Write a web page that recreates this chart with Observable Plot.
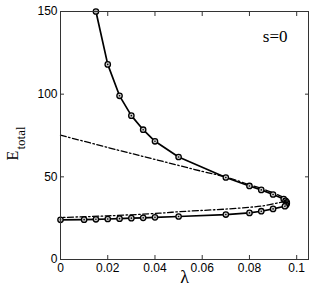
<!DOCTYPE html>
<html>
<head>
<meta charset="utf-8">
<script src="https://cdn.jsdelivr.net/npm/d3@7"></script>
<script src="https://cdn.jsdelivr.net/npm/@observablehq/plot@0.6"></script>
<style>
html,body{margin:0;padding:0;background:#fff;}
#chart svg{display:block;}
.serif text, text.serif{font-family:"Liberation Serif","Times New Roman",serif !important;}
</style>
</head>
<body>
<div id="chart"></div>
<script>
const xTicks = [0, 0.02, 0.04, 0.06, 0.08, 0.1];
const xTickLabels = ["0", "0.02", "0.04", "0.06", "0.08", "0.1"];
const yTicks = [0, 50, 100, 150];

// solid curve with markers
const lamSolid = [0.015,0.02,0.025,0.03,0.035,0.04,0.05,0.07,0.08,0.085,0.09,0.0945,0.0953,0.0958,0.0958,0.0955,0.095,0.09,0.085,0.08,0.07,0.05,0.04,0.035,0.03,0.025,0.02,0.015,0.01,0];
const eSolid   = [150,118,99,87,78.5,71.5,62,49.6,44.5,42.1,39.3,36.6,35.5,34.6,33.8,33.0,32.2,30.6,29.2,28.2,27.2,26.0,25.5,25.2,25.0,24.7,24.5,24.3,24.1,24.0];

// dash-dot curve
const lamDash = [0,0.024,0.042,0.06,0.07,0.08,0.085,0.09,0.0935,0.0957,0.0945,0.0922,0.085,0.08,0.07,0.059,0.05,0.042,0.02,0];
const eDash   = [75.2,66.3,59.8,53.3,49.9,45.2,43.0,40.3,38.2,36.1,35.0,34.3,32.3,31.6,30.5,29.6,28.9,28.0,26.4,25.4];

const solid = lamSolid.map((x, i) => ({x, y: eSolid[i]}));
const dash = lamDash.map((x, i) => ({x, y: eDash[i]}));

const serif = "'Liberation Serif', 'Times New Roman', serif";

const plot = Plot.plot({
  width: 312,
  height: 293,
  marginLeft: 60,
  marginRight: 4,
  marginTop: 11,
  marginBottom: 34,
  style: {fontFamily: "'Liberation Sans', Arial, sans-serif", fontSize: "12px", color: "#000", background: "#fff"},
  x: {domain: [0, 0.105]},
  y: {domain: [0, 150]},
  marks: [
    Plot.line(dash, {x: "x", y: "y", stroke: "#000", strokeWidth: 1.3, strokeDasharray: "6,2.5,1.5,2.5", curve: "catmull-rom"}),
    Plot.line(solid, {x: "x", y: "y", stroke: "#000", strokeWidth: 1.7}),
    Plot.dot(solid, {x: "x", y: "y", r: 2.7, stroke: "#000", strokeWidth: 1.3, fill: "#ccc"}),
    Plot.dot(solid, {x: "x", y: "y", r: 0.8, fill: "#000"}),
    Plot.frame({stroke: "#333", strokeWidth: 1}),
    Plot.axisX({ticks: xTicks, tickFormat: (d, i) => xTickLabels[i], tickSize: -4, tickPadding: 8, anchor: "bottom", fontSize: 12, stroke: "#333", label: null}),
    Plot.axisX({ticks: xTicks, tickSize: -4, anchor: "top", text: null, stroke: "#333", label: null}),
    Plot.axisY({ticks: yTicks, tickSize: -4, tickPadding: 7, anchor: "left", fontSize: 12, stroke: "#333", label: null}),
    Plot.axisY({ticks: yTicks, tickSize: -4, anchor: "right", text: null, stroke: "#333", label: null}),
    Plot.text(["λ"], {frameAnchor: "bottom", dy: 23, fontFamily: serif, fontSize: 18, fill: "#000", className: "serif"}),
    Plot.text(["s=0"], {frameAnchor: "top-right", dx: -21, dy: 18, textAnchor: "end", fontFamily: serif, fontSize: 17, fill: "#000", className: "serif"}),
    Plot.text(["E"], {frameAnchor: "left", dx: -48, dy: 25, rotate: -90, fontFamily: serif, fontSize: 16, fill: "#000", className: "serif"}),
    Plot.text(["total"], {frameAnchor: "left", dx: -40, dy: 14, rotate: -90, textAnchor: "start", fontFamily: serif, fontSize: 13, fill: "#000", className: "serif"})
  ]
});
document.getElementById("chart").appendChild(plot);
</script>
</body>
</html>
